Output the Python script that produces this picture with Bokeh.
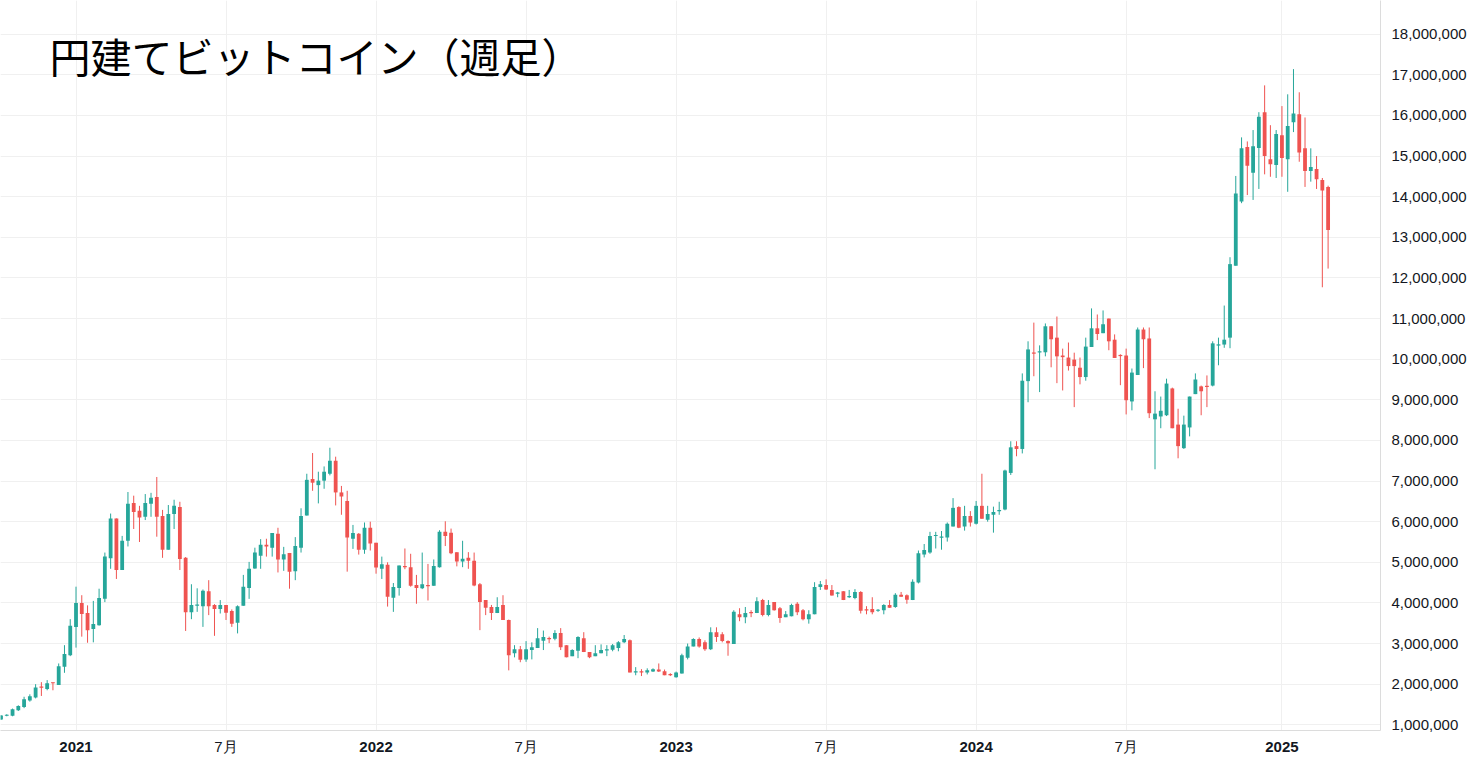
import pandas as pd
from bokeh.plotting import figure
from bokeh.models import ColumnDataSource, Range1d, FixedTicker, NumeralTickFormatter, Label, LinearAxis
from bokeh.embed import file_html
from bokeh.resources import INLINE

# ---------------- data (million JPY, weekly bars starting Monday) ----------------
first_week = "2020-10-05"
title_text = "円建てビットコイン（週足）"

open_m = [1.13,1.22,1.22,1.36,1.44,1.60,1.67,1.93,1.88,2.04,1.98,2.43,2.71,3.41,4.00,3.75,3.36,3.45,4.10,5.10,
          6.08,4.81,5.53,6.46,6.27,6.12,6.44,6.61,6.14,5.31,6.19,6.36,5.11,3.77,3.93,3.92,4.29,3.95,3.85,3.95,
          3.80,3.51,3.93,4.37,4.85,5.16,5.43,5.36,5.70,5.07,5.23,4.78,5.36,6.15,7.05,6.90,7.01,7.18,7.50,6.72,
          6.51,5.58,5.70,5.31,5.85,5.48,4.84,4.94,4.13,4.37,4.91,4.88,4.44,4.36,4.43,4.42,4.88,5.75,5.73,5.25,
          5.02,5.11,5.04,4.46,4.07,3.90,3.75,3.95,3.58,2.76,2.86,2.61,2.84,2.89,3.07,3.13,3.12,3.26,2.96,2.69,
          2.82,3.13,2.79,2.69,2.76,2.83,2.85,2.89,3.03,3.08,2.29,2.32,2.29,2.31,2.36,2.32,2.24,2.17,2.26,2.65,
          2.93,3.11,3.03,2.86,3.28,3.23,3.06,2.99,3.72,3.65,3.77,3.75,4.07,3.70,4.02,3.87,3.65,3.67,3.98,3.82,
          3.60,3.72,4.39,4.44,4.32,4.23,4.29,4.14,4.12,4.27,3.84,3.85,3.81,3.82,3.95,3.90,4.20,4.19,4.07,4.50,
          5.19,5.24,5.65,5.61,5.61,5.88,6.36,5.88,6.14,5.95,6.39,6.05,6.17,6.26,6.30,7.20,7.86,7.79,9.46,10.16,
          10.17,10.17,10.81,10.53,10.09,10.04,9.99,9.79,9.56,10.30,10.76,10.64,11.00,10.48,10.10,10.09,8.96,9.61,10.73,10.51,
          8.52,8.59,8.62,9.28,8.39,7.81,8.32,9.14,9.33,9.34,9.35,10.34,10.36,10.53,12.30,13.88,15.22,14.59,15.20,16.08,
          14.92,14.78,15.51,14.92,15.83,16.03,15.19,14.63,14.68,14.41,14.24]
high_m = [1.24,1.26,1.40,1.48,1.69,1.75,2.00,2.05,2.10,2.04,2.51,2.96,3.60,4.40,4.19,3.94,4.05,4.35,5.24,6.20,
          6.08,5.65,6.73,6.64,6.39,6.68,6.71,7.10,6.29,6.41,6.54,6.49,5.13,4.46,4.36,4.33,4.56,3.97,4.07,3.95,
          3.84,3.94,4.69,5.01,5.36,5.57,5.58,5.72,5.85,5.38,5.23,5.62,6.33,7.18,7.69,7.23,7.36,7.82,7.60,6.88,
          6.76,5.92,5.72,5.98,6.00,5.48,5.14,5.00,4.49,4.92,5.34,5.21,4.69,5.24,4.96,5.07,5.79,6.01,5.83,5.25,
          5.53,5.25,5.24,4.49,4.07,3.95,4.14,4.19,3.59,2.96,2.94,3.06,3.03,3.38,3.32,3.17,3.33,3.38,2.96,2.86,
          3.18,3.28,2.79,2.96,2.98,2.96,2.99,3.06,3.21,3.10,2.42,2.37,2.39,2.39,2.51,2.36,2.27,2.31,2.75,3.00,
          3.13,3.15,3.08,3.40,3.40,3.28,3.08,3.82,3.87,3.90,3.82,4.14,4.10,4.07,4.02,3.90,3.80,3.98,4.02,3.85,
          3.82,4.51,4.54,4.58,4.44,4.27,4.29,4.32,4.34,4.29,3.92,4.14,3.85,3.97,4.07,4.24,4.27,4.21,4.58,5.29,
          5.45,5.75,5.75,5.77,5.98,6.58,6.38,6.39,6.26,6.51,7.18,6.39,6.37,6.49,7.28,7.98,7.98,9.65,10.44,10.90,
          10.34,10.88,10.81,11.05,10.26,10.41,10.16,10.04,10.53,11.25,11.10,11.20,11.00,10.61,10.12,10.26,9.77,10.78,10.78,10.78,
          9.21,9.08,9.52,9.30,8.78,8.61,9.08,9.65,9.35,9.60,10.44,10.53,11.32,12.51,14.51,15.46,15.36,15.64,16.08,16.74,
          15.76,15.64,16.23,16.52,17.14,16.57,15.95,15.19,15.00,14.46,14.27]
low_m = [1.12,1.21,1.21,1.34,1.41,1.57,1.65,1.71,1.85,1.85,1.98,2.28,2.69,2.90,3.17,3.02,3.03,3.44,4.02,4.84,
         4.59,4.81,5.39,5.82,5.50,6.04,6.12,5.63,5.11,5.31,5.82,4.81,3.31,3.60,3.78,3.41,3.70,3.19,3.74,3.58,
         3.41,3.25,3.93,4.10,4.84,4.84,5.14,5.14,4.75,4.79,4.35,4.56,5.24,6.15,6.76,6.45,6.81,7.14,6.40,6.17,
         4.77,5.33,5.19,5.21,5.29,4.72,4.59,3.91,3.78,4.18,4.83,4.40,3.98,4.34,4.06,4.42,4.87,5.40,5.20,4.90,
         4.88,4.84,4.41,3.33,3.70,3.58,3.75,3.58,2.34,2.66,2.54,2.55,2.61,2.89,2.84,3.01,3.08,2.84,2.66,2.69,
         2.64,2.79,2.64,2.69,2.76,2.69,2.81,2.81,3.01,2.29,2.22,2.20,2.24,2.30,2.30,2.22,2.20,2.16,2.26,2.61,
         2.93,2.90,2.82,2.84,3.04,3.03,2.70,2.99,3.55,3.50,3.65,3.75,3.67,3.67,3.81,3.51,3.65,3.67,3.70,3.57,
         3.49,3.72,4.32,4.32,4.18,4.14,4.07,4.12,4.09,3.74,3.72,3.72,3.78,3.72,3.88,3.88,4.15,3.98,4.07,4.48,
         5.12,5.21,5.34,5.31,5.51,5.88,5.84,5.78,5.88,5.93,6.07,6.00,5.73,6.17,6.28,7.15,7.61,7.68,8.94,9.58,
         9.19,10.07,9.80,9.41,9.23,9.72,8.82,9.38,9.47,10.30,10.47,10.64,10.22,10.03,9.36,8.64,8.74,9.61,9.78,8.55,
         7.29,8.30,8.60,8.30,7.56,7.79,8.10,9.14,8.62,8.82,9.33,9.85,10.28,10.27,12.30,13.84,14.04,13.92,14.19,14.55,
         14.49,14.46,14.49,14.12,15.59,14.86,14.24,14.37,14.19,11.77,12.23]
close_m = [1.23,1.25,1.38,1.46,1.63,1.70,1.92,1.92,2.02,2.03,2.44,2.74,3.44,4.00,3.73,3.33,3.48,4.12,5.14,6.08,
           4.81,5.53,6.44,6.24,6.10,6.46,6.59,6.12,5.31,6.19,6.39,5.08,3.77,3.95,3.96,4.30,3.92,3.85,3.95,3.76,
           3.49,3.92,4.40,4.84,5.24,5.43,5.39,5.72,5.07,5.20,4.77,5.40,6.14,7.03,6.96,7.01,7.23,7.50,6.72,6.62,
           5.61,5.72,5.31,5.85,5.46,4.87,4.95,4.15,4.39,4.92,4.88,4.42,4.37,4.46,4.42,4.91,5.75,5.65,5.22,5.02,
           5.09,5.04,4.43,4.02,3.88,3.75,3.90,3.58,2.71,2.86,2.60,2.86,2.91,3.13,3.16,3.11,3.26,2.91,2.66,2.84,
           3.16,2.79,2.66,2.76,2.84,2.86,2.96,3.03,3.11,2.29,2.32,2.29,2.34,2.37,2.31,2.22,2.23,2.29,2.71,2.93,
           3.11,2.93,2.86,3.28,3.16,3.06,3.01,3.78,3.65,3.75,3.75,4.04,3.70,3.95,3.82,3.63,3.72,3.95,3.77,3.60,
           3.72,4.39,4.46,4.33,4.18,4.25,4.07,4.17,4.27,3.81,3.82,3.77,3.83,3.95,3.88,4.20,4.15,4.08,4.52,5.22,
           5.30,5.65,5.67,5.63,5.95,6.34,5.85,6.14,5.98,6.39,6.07,6.19,6.24,6.28,7.26,7.83,7.79,9.47,10.24,10.14,
           10.19,10.81,10.49,10.07,10.05,9.83,9.83,9.56,10.31,10.76,10.62,10.86,10.44,10.03,10.08,8.99,9.67,10.73,10.49,8.67,
           8.66,8.73,9.40,8.30,7.86,8.39,9.08,9.50,9.21,9.32,10.39,10.36,10.48,12.34,14.08,15.19,14.76,15.24,15.97,15.00,
           14.80,15.54,14.95,15.74,16.05,15.09,14.63,14.73,14.43,14.15,13.18]

price_ticks_m = list(range(1, 19))
month_label = "7月"

# ---------------- derived ----------------
UP, DOWN = "#26a69a", "#ef5350"
n = len(close_m)
dates = pd.date_range(first_week, periods=n, freq="W-MON")
idx = list(range(n))
M = 1e6
tops, bottoms = [], []
for o, c in zip(open_m, close_m):
    t, b = max(o, c) * M, min(o, c) * M
    if t - b < 30000:
        mid = (t + b) / 2
        t, b = mid + 15000, mid - 15000
    tops.append(t)
    bottoms.append(b)
src = ColumnDataSource(dict(
    x=idx,
    h=[v * M for v in high_m], l=[v * M for v in low_m],
    top=tops, bottom=bottoms,
    color=[UP if c >= o else DOWN for o, c in zip(open_m, close_m)],
))

# tick positions: first weekly bar of each January / July
year_ticks, month_ticks = [], []
for i in range(1, n):
    if dates[i].month != dates[i - 1].month:
        if dates[i].month == 1:
            year_ticks.append(i)
        elif dates[i].month == 7:
            month_ticks.append(i)
all_ticks = sorted(year_ticks + month_ticks)

# ---------------- layout ----------------
FRAME_W, FRAME_H = 1380, 730
BAR_PX = 5.77
x_start = -0.5 / BAR_PX
x_end = x_start + FRAME_W / BAR_PX
y_start, y_end = 0.860 * M, 18.829 * M
units_per_px = (y_end - y_start) / FRAME_H

p = figure(frame_width=FRAME_W, frame_height=FRAME_H,
           x_range=Range1d(x_start, x_end), y_range=Range1d(y_start, y_end),
           y_axis_location="right", output_backend="svg", toolbar_location=None,
           min_border_left=0, min_border_top=0, min_border_right=0, min_border_bottom=0,
           background_fill_color="white", border_fill_color="white")
p.outline_line_color = None

p.segment(x0="x", y0="h", x1="x", y1="l", line_color="color", line_width=1, source=src)
p.vbar(x="x", width=0.66, top="top", bottom="bottom", fill_color="color", line_color=None, source=src)

AXIS_FONT = "Liberation Sans"
TXT = "#131722"

# primary x axis: all ticks (drives grid), shows bold year labels
xa = p.xaxis[0]
xa.ticker = FixedTicker(ticks=all_ticks)
xa.major_label_overrides = {t: (str(dates[t].year) if t in year_ticks else "") for t in all_ticks}
xa.major_tick_in = 0
xa.major_tick_out = 0
xa.minor_tick_in = 0
xa.minor_tick_out = 0
xa.axis_line_color = "#dcdcdc"
xa.major_label_standoff = 11
xa.major_label_text_font = AXIS_FONT
xa.major_label_text_font_size = "15px"
xa.major_label_text_font_style = "bold"
xa.major_label_text_color = TXT

# second x axis: month labels, drawn back up into the same row
xm = LinearAxis(ticker=FixedTicker(ticks=month_ticks),
                major_label_overrides={t: month_label for t in month_ticks},
                major_tick_in=0, major_tick_out=0, minor_tick_in=0, minor_tick_out=0,
                axis_line_color=None, major_label_standoff=-17,
                major_label_text_font=AXIS_FONT, major_label_text_font_size="15px",
                major_label_text_color=TXT)
p.add_layout(xm, "below")

ya = p.yaxis[0]
ya.ticker = FixedTicker(ticks=[t * M for t in price_ticks_m])
ya.formatter = NumeralTickFormatter(format="0,0")
ya.major_tick_in = 0
ya.major_tick_out = 0
ya.minor_tick_in = 0
ya.minor_tick_out = 0
ya.axis_line_color = "#dcdcdc"
ya.major_label_standoff = 11
ya.major_label_text_font = AXIS_FONT
ya.major_label_text_font_size = "15px"
ya.major_label_text_color = TXT

p.xgrid.grid_line_color = "#f0f0f0"
p.ygrid.grid_line_color = "#f0f0f0"

p.add_layout(Label(x=x_start + 49 / BAR_PX, y=y_end - 54 * units_per_px, text=title_text,
                   text_font="Noto Sans CJK JP", text_font_size="41px", text_color="black",
                   text_align="left", text_baseline="middle"))

open("out.html", "w").write(file_html(p, INLINE))
